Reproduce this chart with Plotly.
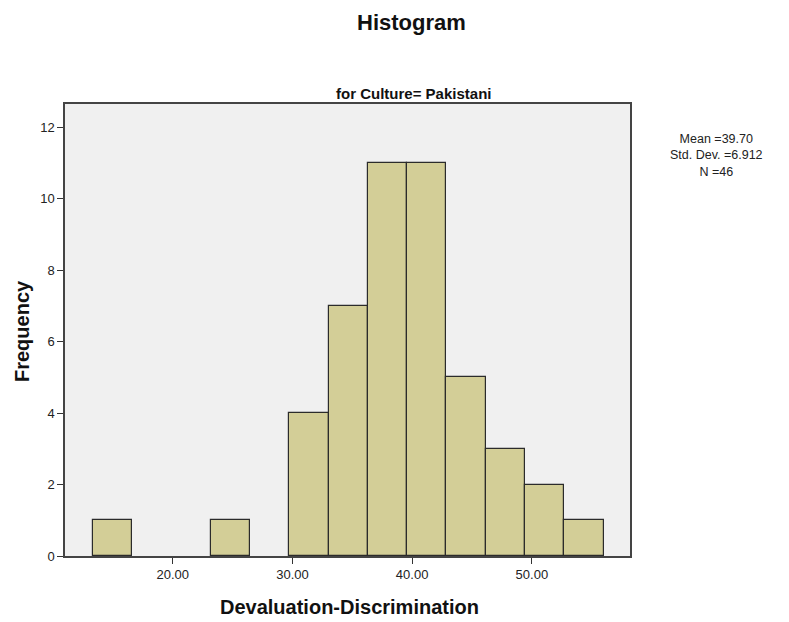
import plotly.graph_objects as go

# Data
bin_start = 13.33
bin_width = 3.282
counts = [1, 0, 0, 1, 0, 4, 7, 11, 11, 5, 3, 2, 1]
x_tick_vals = [20, 30, 40, 50]
x_tick_text = ["20.00", "30.00", "40.00", "50.00"]
y_tick_vals = [0, 2, 4, 6, 8, 10, 12]
stats_lines = ["Mean =39.70", "Std. Dev. =6.912", "N =46"]

xs, ys = [], []
for i, c in enumerate(counts):
    if c > 0:
        xs.append(bin_start + bin_width * (i + 0.5))
        ys.append(c)

fig = go.Figure()
fig.add_trace(go.Bar(
    x=xs, y=ys, width=[bin_width] * len(xs),
    marker=dict(color="#D3CE97", line=dict(color="#2b2b2b", width=1.2)),
    hoverinfo="x+y",
))

FONT = "Liberation Sans, Arial, sans-serif"
L, R, T, B = 65, 159, 104, 66
W, H = 789, 622
PW, PH = W - L - R, H - T - B


def px(x):
    return (x - L) / PW


def py(y):
    return (H - B - y) / PH


annotations = [
    dict(text="<b>Histogram</b>", x=px(411), y=py(22), xref="paper", yref="paper",
         xanchor="center", yanchor="middle", showarrow=False,
         font=dict(size=22, color="#111111", family=FONT)),
    dict(text="<b>for Culture= Pakistani</b>", x=px(413), y=py(93), xref="paper", yref="paper",
         xanchor="center", yanchor="middle", showarrow=False,
         font=dict(size=15, color="#111111", family=FONT)),
    dict(text="<b>Devaluation-Discrimination</b>", x=px(349), y=py(607), xref="paper", yref="paper",
         xanchor="center", yanchor="middle", showarrow=False,
         font=dict(size=20, color="#111111", family=FONT)),
    dict(text="<b>Frequency</b>", x=px(22), y=py(331), xref="paper", yref="paper",
         xanchor="center", yanchor="middle", showarrow=False, textangle=-90,
         font=dict(size=20, color="#111111", family=FONT)),
    dict(text="<br>".join(stats_lines), x=px(716), y=py(156), xref="paper", yref="paper",
         xanchor="center", yanchor="middle", showarrow=False, align="center",
         font=dict(size=12.5, color="#222222", family=FONT)),
]

fig.update_layout(
    width=W, height=H,
    margin=dict(l=L, r=R, t=T, b=B),
    paper_bgcolor="white",
    plot_bgcolor="#F0F0F0",
    showlegend=False,
    bargap=0,
    font=dict(family=FONT, color="#222222", size=13),
    xaxis=dict(
        range=[11.0, 58.2],
        tickmode="array", tickvals=x_tick_vals, ticktext=x_tick_text,
        ticks="outside", ticklen=6, tickcolor="#333333", tickwidth=1,
        showgrid=False, zeroline=False,
        showline=True, linecolor="#444444", linewidth=1.5, mirror=True,
        tickfont=dict(size=13, color="#222222"),
        automargin=False,
        fixedrange=True,
    ),
    yaxis=dict(
        range=[0, 12.65],
        tickmode="array", tickvals=y_tick_vals,
        ticks="outside", ticklen=6, tickcolor="#333333", tickwidth=1,
        showgrid=False, zeroline=False,
        showline=True, linecolor="#444444", linewidth=1.5, mirror=True,
        tickfont=dict(size=13, color="#222222"),
        automargin=False,
        fixedrange=True,
    ),
    annotations=annotations,
)

fig.write_html("out.html")
